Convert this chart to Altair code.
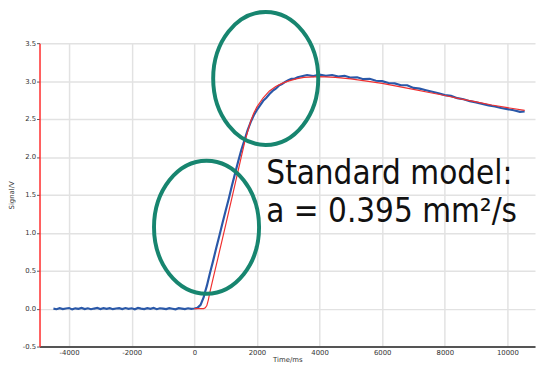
import altair as alt
import pandas as pd

# ---- measured signal (blue) ----
blue_t = [-4500, -4400, -4300, -4200, -4100, -4000, -3900, -3800, -3700, -3600,
          -3500, -3400, -3300, -3200, -3100, -3000, -2900, -2800, -2700, -2600,
          -2500, -2400, -2300, -2200, -2100, -2000, -1900, -1800, -1700, -1600,
          -1500, -1400, -1300, -1200, -1100, -1000, -900, -800, -700, -600,
          -500, -400, -300, -200, -100, 0,
          100, 200, 300, 350, 400, 500, 600, 700, 800, 900, 1000, 1100, 1200,
          1300, 1400, 1500, 1600, 1700, 1800, 1900, 2000, 2100, 2200, 2300,
          2400, 2500, 2600, 2700, 2800, 2900, 3000, 3100, 3200, 3300, 3400, 3500,
          3600, 3800, 4000, 4200, 4400, 4600, 4800, 5000, 5200, 5400, 5600, 5800,
          6000, 6200, 6400, 6600, 6800, 7000, 7200, 7400, 7600, 7800, 8000, 8200,
          8400, 8600, 8800, 9000, 9200, 9400, 9600, 9800, 10000, 10200, 10400, 10550]
blue_v = [0.000, -0.008, 0.006, -0.005, 0.002, 0.008, -0.010, 0.004, -0.002, 0.010,
          -0.006, 0.005, -0.008, 0.001, 0.009, -0.005, 0.006, -0.003, 0.007, -0.007,
          0.002, 0.006, -0.006, 0.008, -0.002, 0.005, -0.008, 0.010, 0.000, -0.006,
          0.006, -0.002, 0.009, -0.007, 0.005, 0.000, -0.006, 0.007, -0.001, -0.009,
          0.006, 0.001, -0.006, 0.005, -0.002, 0.002,
          0.01, 0.05, 0.15, 0.23, 0.30, 0.47, 0.63, 0.80, 0.96, 1.13, 1.29, 1.45, 1.62,
          1.78, 1.94, 2.09, 2.22, 2.35, 2.46, 2.55, 2.62, 2.68, 2.74, 2.78,
          2.83, 2.87, 2.90, 2.94, 2.96, 2.99, 3.01, 3.03, 3.03, 3.05, 3.06, 3.07,
          3.08, 3.065, 3.085, 3.07, 3.08, 3.06, 3.07, 3.045, 3.05, 3.025, 3.03, 3.005,
          3.00, 2.975, 2.97, 2.945, 2.945, 2.91, 2.90, 2.88, 2.86, 2.84, 2.815, 2.805,
          2.775, 2.76, 2.735, 2.72, 2.70, 2.68, 2.665, 2.645, 2.63, 2.615, 2.595, 2.60]

# ---- standard model fit (red) ----
red_t = [0, 300, 350, 400, 450, 500, 600, 750, 1000, 1250, 1500, 1600, 1700, 1800,
         1900, 2000, 2200, 2400, 2600, 2800, 3000, 3250, 3500, 4000, 4500, 5000,
         5500, 6000, 6500, 7000, 7500, 8000, 8500, 9000, 9500, 10000, 10550]
red_v = [0.00, 0.00, 0.01, 0.04, 0.12, 0.22, 0.40, 0.66, 1.10, 1.55, 2.00, 2.18, 2.33, 2.47,
         2.58, 2.66, 2.78, 2.87, 2.93, 2.97, 3.00, 3.03, 3.05, 3.06, 3.05, 3.03,
         3.00, 2.97, 2.93, 2.89, 2.85, 2.81, 2.765, 2.725, 2.685, 2.65, 2.615]

# ---- annotations ----
ring_t = [2280, 390]
ring_v = [3.035, 1.074]
note_text = ["Standard model:", "a = 0.395 mm\u00b2/s"]
note_t = [2300, 2300]
note_v = [1.645, 1.147]

x_ticks = [-4000, -2000, 0, 2000, 4000, 6000, 8000, 10000]
y_ticks = [-0.5, 0.0, 0.5, 1.0, 1.5, 2.0, 2.5, 3.0, 3.5]
x_domain = [-4944, 10881]
y_domain = [-0.5, 3.5]

blue_df = pd.DataFrame({"t": blue_t, "v": blue_v})
red_df = pd.DataFrame({"t": red_t, "v": red_v})
ring_df = pd.DataFrame({"t": ring_t, "v": ring_v})
note_df = pd.DataFrame({"t": note_t, "v": note_v, "label": note_text})

X = alt.X("t:Q", scale=alt.Scale(domain=x_domain, nice=False, zero=False),
          axis=alt.Axis(values=x_ticks, title="Time/ms", labelExpr="'' + datum.value",
                        ticks=False, labelPadding=2, titlePadding=0,
                        domainColor="#555555", domainWidth=2,
                        gridColor="#e2e2e2", gridWidth=1.5))
Y = alt.Y("v:Q", scale=alt.Scale(domain=y_domain, nice=False, zero=False),
          axis=alt.Axis(values=y_ticks, title="Signal/V",
                        labelExpr="replace(format(datum.value, '.1f'), '\u2212', '-')",
                        tickSize=3, tickColor="#555555", labelPadding=1, titlePadding=8,
                        domainColor="#ff2a2a", domainWidth=1.5,
                        gridColor="#e2e2e2", gridWidth=1.5))

blue = alt.Chart(blue_df).mark_line(color="#2a58a8", strokeWidth=2.2).encode(x=X, y=Y)
red = alt.Chart(red_df).mark_line(color="#f03030", strokeWidth=1.2).encode(x=X, y=Y)

ellipse_path = ("M -0.79 0 C -0.79 -0.552 -0.436 -1 0 -1 C 0.436 -1 0.79 -0.552 0.79 0 "
                "C 0.79 0.552 0.436 1 0 1 C -0.436 1 -0.79 0.552 -0.79 0 Z")
rings = alt.Chart(ring_df).mark_point(shape=ellipse_path, size=18225, filled=False,
                                       stroke="#17856f", strokeWidth=4, opacity=1).encode(x=X, y=Y)

notes = alt.Chart(note_df).mark_text(align="left", baseline="alphabetic", fontSize=33.4,
                                      font="DejaVu Sans Condensed, Liberation Sans",
                                      color="#111111").encode(x=X, y=Y, text="label:N")

chart = alt.layer(blue, red, rings, notes).properties(
    width=503, height=308,
    padding={"left": 32, "top": 33, "right": 1, "bottom": 15},
    autosize=alt.AutoSizeParams(type="none"),
).configure_view(stroke=None).configure_axis(
    labelFont="DejaVu Sans", labelFontSize=7, labelColor="#333333",
    titleFont="DejaVu Sans", titleFontSize=7, titleFontWeight="normal", titleColor="#333333",
)

chart.save("out.html", embed_options={"renderer": "svg", "actions": False})
